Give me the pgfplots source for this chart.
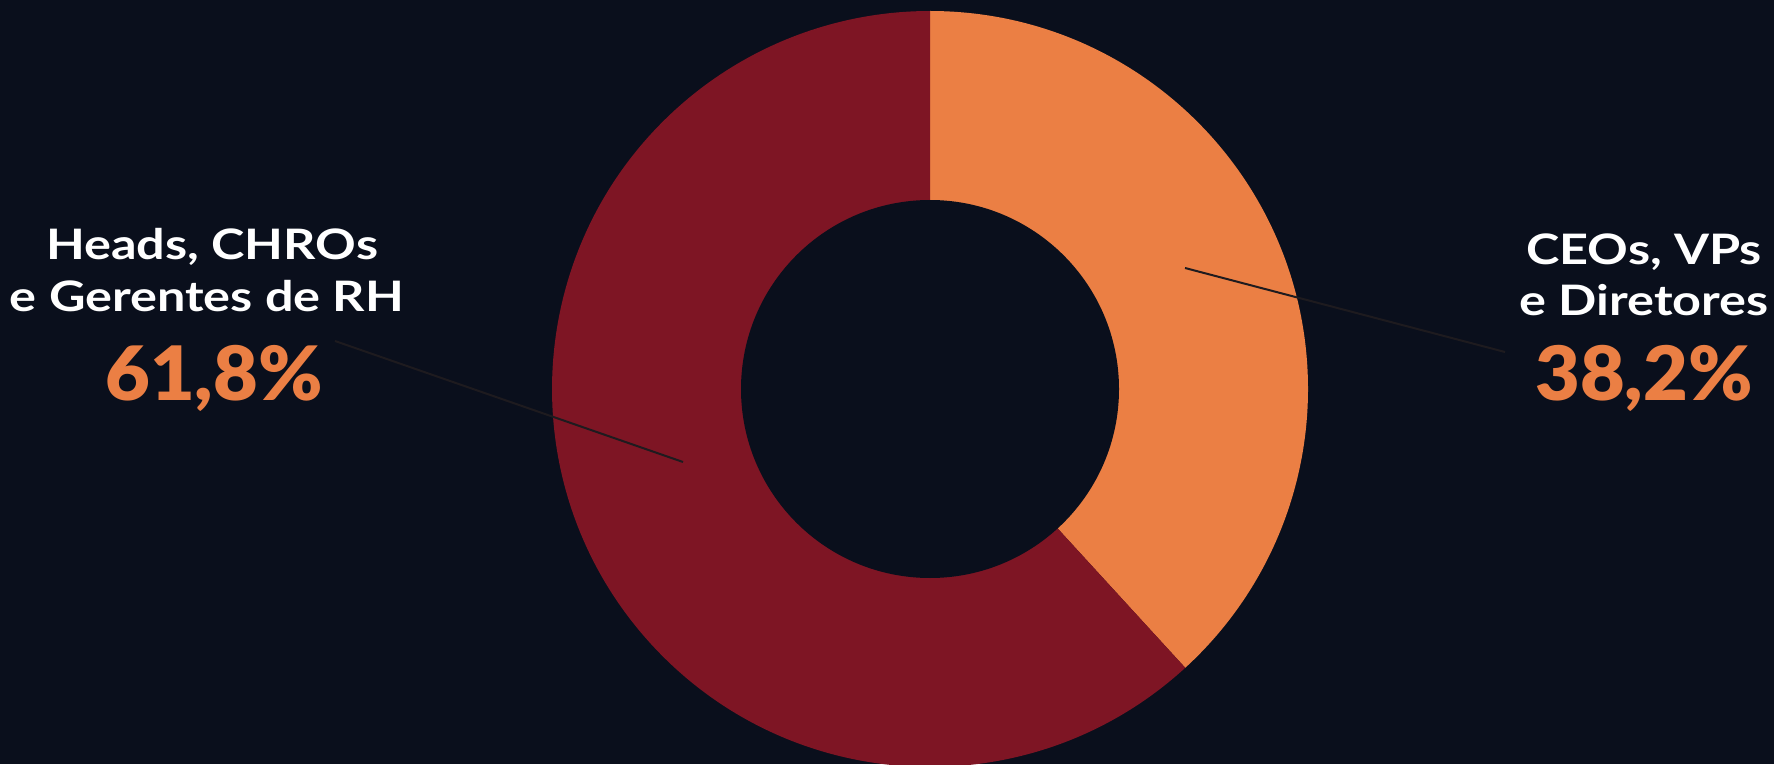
\documentclass[border=0pt]{standalone}
\usepackage{pgfplots}
\pgfplotsset{compat=1.18}
\usepackage{pgfplotstable}
\usepackage{fontspec}
\setmainfont{Lato}
\newfontfamily\labfont{Lato}[FakeStretch=1.2]
\newfontfamily\numfont{Lato Black}[FakeStretch=1.03]

\definecolor{bg}{HTML}{0A0F1C}
\definecolor{cRed}{HTML}{7E1524}
\definecolor{cOrange}{HTML}{EB7F44}
\definecolor{leader}{HTML}{1E1B1F}

% share of respondents, per group
\pgfplotstableread{
group  value
CEOs   38.2
Heads  61.8
}\shares

\pgfplotstablegetelem{0}{value}\of\shares \let\vCeo\pgfplotsretval
\pgfplotstablegetelem{1}{value}\of\shares \let\vHead\pgfplotsretval
\pgfmathsetmacro\aA{90-3.6*\vCeo}
\pgfmathsetmacro\aB{\aA-3.6*\vHead}

\begin{document}
\begin{tikzpicture}
\begin{axis}[
    x=1pt, y=1pt,
    xmin=0, xmax=1774, ymin=0, ymax=764,
    disabledatascaling,
    hide axis,
]
\coordinate (bl) at (axis cs:0,0);
\coordinate (tr) at (axis cs:1774,764);
\fill[bg] (axis cs:0,0) rectangle (axis cs:1774,764);

% donut: wedges from the table, then the hole
\fill[cOrange] (axis cs:930,375) -- ++(90:378) arc[start angle=90, end angle=\aA, radius=378] -- cycle;
\fill[cRed] (axis cs:930,375) -- ++(\aA:378) arc[start angle=\aA, end angle=\aB, radius=378] -- cycle;
\fill[bg] (axis cs:930,375) circle[radius=189];

% leader lines
\draw[leader, line width=2pt] (axis cs:335,423) -- (axis cs:683,302);
\draw[leader, line width=2pt] (axis cs:1185,496) -- (axis cs:1505,412);

% labels
\begin{scope}[every node/.style={inner sep=0pt, anchor=base},
    lab/.style={white, font=\fontsize{42}{50}\labfont\bfseries},
    num/.style={cOrange, font=\fontsize{75}{80}\numfont}]
\node[lab] at (axis cs:212,504) {Heads, CHROs};
\node[lab] at (axis cs:207,452) {e Gerentes de RH};
\node[num] at (axis cs:214,363) {61,8\%};
\node[lab] at (axis cs:1644,499) {CEOs, VPs};
\node[lab] at (axis cs:1644,448) {e Diretores};
\node[num] at (axis cs:1644,363) {38,2\%};
\end{scope}
\end{axis}
\pgfresetboundingbox
\useasboundingbox (bl) rectangle (tr);
\end{tikzpicture}
\end{document}
